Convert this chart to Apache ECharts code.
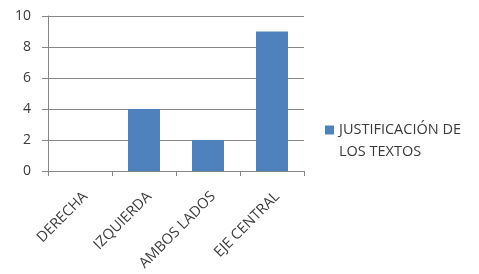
<!DOCTYPE html>
<html><head><meta charset="utf-8">
<script src="https://cdn.jsdelivr.net/npm/echarts@6/dist/echarts.min.js"></script>
<style>html,body{margin:0;padding:0;background:#fff}#c{width:479px;height:274px}</style>
</head><body><div id="c"></div>
<script>
const categories = ['DERECHA', 'IZQUIERDA', 'AMBOS LADOS', 'EJE CENTRAL'];
const values = [0, 4, 2, 9];
const seriesName = 'JUSTIFICACIÓN DE\nLOS TEXTOS';
const chart = echarts.init(document.getElementById('c'));
chart.setOption({
  animation: false,
  textStyle: {fontFamily: 'Open Sans'},
  grid: {left: 48, right: 175, top: 16, bottom: 103},
  legend: {
    show: true, orient: 'vertical', left: 320, top: 92,
    itemWidth: 9, itemHeight: 9, itemGap: 4,
    icon: 'rect',
    formatter: function (n) { return ' \n' + n; },
    textStyle: {fontSize: 14.5, color: '#3a3a3a', lineHeight: 22, fontFamily: 'Open Sans'},
    data: [seriesName]
  },
  xAxis: {
    type: 'category', data: categories,
    axisLine: {lineStyle: {color: '#868686'}},
    axisTick: {show: true, length: 5, lineStyle: {color: '#868686'}},
    axisLabel: {rotate: 45, fontSize: 14.5, color: '#3a3a3a', margin: 18, interval: 0, align: 'right', verticalAlign: 'top'}
  },
  yAxis: {
    type: 'value', min: 0, max: 10, interval: 2,
    axisLine: {show: true, lineStyle: {color: '#868686'}},
    axisTick: {show: true, length: 6, lineStyle: {color: '#868686'}},
    splitLine: {lineStyle: {color: '#868686'}},
    axisLabel: {fontSize: 14, color: '#3a3a3a', margin: 17}
  },
  series: [{
    name: seriesName, type: 'bar', data: values, barWidth: '50%',
    itemStyle: {color: '#4F81BD'}
  }]
});
</script></body></html>
